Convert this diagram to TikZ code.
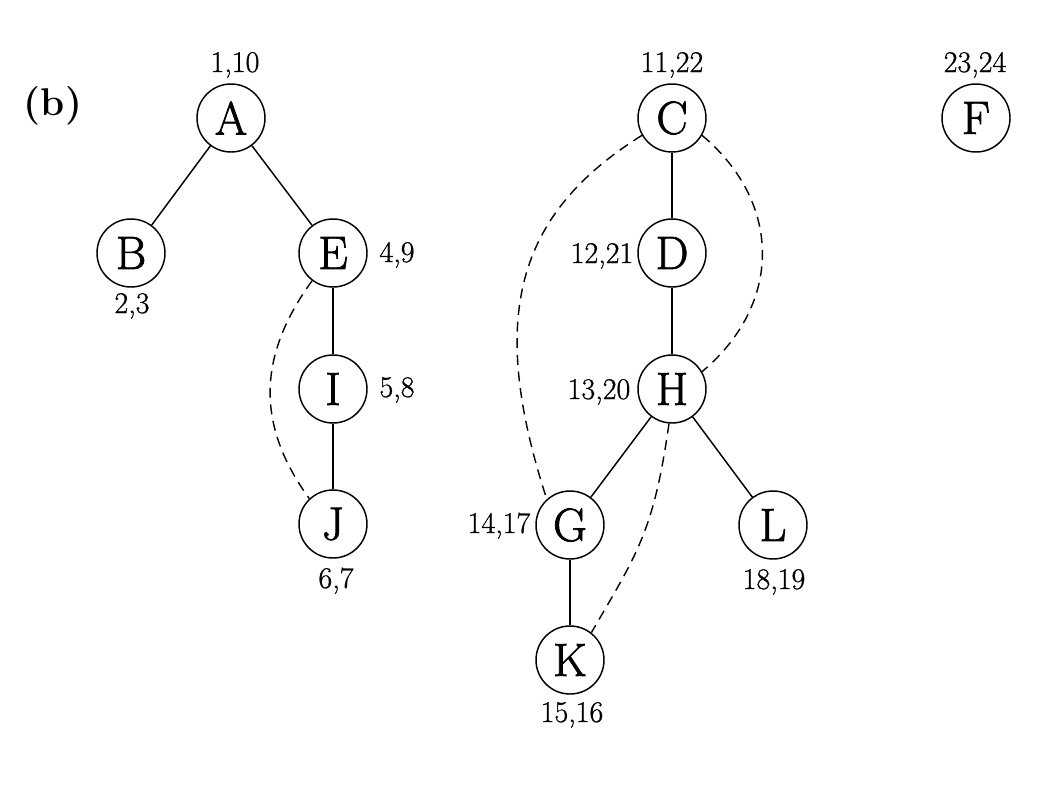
\documentclass[tikz,border=0pt]{standalone}
\usepackage{fontspec}
\newfontfamily\heavyfont{Latin Modern Roman}[FakeBold=0.9]
\newfontfamily\vtxfont{Latin Modern Roman}[FakeBold=1.6]
\begin{document}
\begin{tikzpicture}[x=0.75pt,y=0.75pt,
  vtx/.style={circle,draw,line width=1.1pt,minimum size=51pt,inner sep=0pt,font=\vtxfont\fontsize{35}{40}\selectfont},
  lbl/.style={anchor=base,inner sep=0pt,font=\heavyfont\fontsize{22.5}{26}\selectfont},
  tree/.style={line width=1.1pt},
  back/.style={line width=1.05pt,dash pattern=on 7.5pt off 5pt}]
\useasboundingbox (0,0) rectangle (1064,-800);
\node[anchor=base,font=\fontsize{29}{34}\selectfont\bfseries] (tag) at (53,-115) {(b)};
% vertices
\node[vtx] (A) at (231,-118) {A};
\node[vtx] (B) at (131,-253) {B};
\node[vtx] (E) at (333,-253) {E};
\node[vtx] (I) at (333,-389) {I};
\node[vtx] (J) at (333,-524) {J};
\node[vtx] (C) at (672,-118) {C};
\node[vtx] (D) at (672,-253) {D};
\node[vtx] (H) at (672,-389) {H};
\node[vtx] (G) at (570,-525) {G};
\node[vtx] (L) at (773,-525) {L};
\node[vtx] (K) at (570,-660) {K};
\node[vtx] (F) at (976,-118) {F};
% labels
\node[lbl] (lA) at (235,-72) {1,10};
\node[lbl] (lB) at (132,-313) {2,3};
\node[lbl] (lE) at (397,-262) {4,9};
\node[lbl] (lI) at (397,-397) {5,8};
\node[lbl] (lJ) at (336,-588) {6,7};
\node[lbl] (lC) at (672,-72) {11,22};
\node[lbl] (lD) at (602,-263) {12,21};
\node[lbl] (lH) at (599,-399) {13,20};
\node[lbl] (lG) at (499,-533) {14,17};
\node[lbl] (lL) at (774,-589) {18,19};
\node[lbl] (lK) at (572,-722) {15,16};
\node[lbl] (lF) at (975,-72) {23,24};
% tree edges
\draw[tree] (A) -- (B);
\draw[tree] (A) -- (E);
\draw[tree] (E) -- (I);
\draw[tree] (I) -- (J);
\draw[tree] (C) -- (D);
\draw[tree] (D) -- (H);
\draw[tree] (H) -- (G);
\draw[tree] (H) -- (L);
\draw[tree] (G) -- (K);
% back edges
\draw[back] (E.233) .. controls +(234:92) and +(126:92) .. (J.133);
\draw[back] (C.210) .. controls +(212:150) and +(108:190) .. (G.132);
\draw[back] (C.330) .. controls +(-40:105) and +(40:105) .. (H.30);
\draw[back] (H.265) .. controls +(262:110) and +(60:90) .. (K.52);
\end{tikzpicture}
\end{document}
